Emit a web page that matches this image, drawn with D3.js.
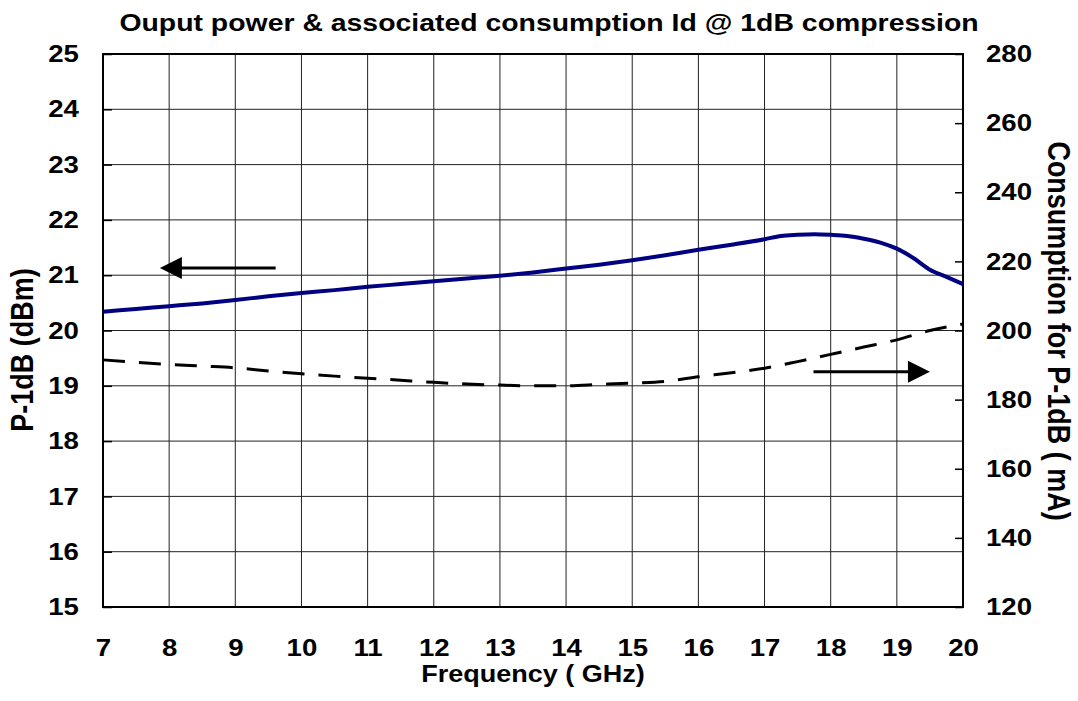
<!DOCTYPE html>
<html>
<head>
<meta charset="utf-8">
<script src="https://cdn.jsdelivr.net/npm/d3@7"></script>
<style>
  body { margin: 0; background: #fff; }
  text { font-family: "Liberation Sans", Arial, sans-serif; font-weight: bold; fill: #000; }
</style>
</head>
<body>
<svg id="chart" width="1078" height="701"></svg>
<script>
const freq = [7, 7.5, 8, 8.5, 9, 9.5, 10, 10.5, 11, 11.5, 12, 12.5, 13, 13.5, 14, 14.5, 15, 15.5, 16, 16.5, 17, 17.25, 17.5, 17.75, 18, 18.25, 18.5, 18.75, 19, 19.25, 19.5, 19.75, 20]
const p1dB = [20.34, 20.39, 20.44, 20.49, 20.55, 20.62, 20.68, 20.73, 20.79, 20.84, 20.89, 20.94, 20.99, 21.05, 21.12, 21.19, 21.27, 21.36, 21.46, 21.55, 21.65, 21.71, 21.73, 21.74, 21.73, 21.71, 21.66, 21.59, 21.48, 21.31, 21.1, 20.97, 20.84]

const freqI = [7, 7.5, 8, 8.5, 9, 9.5, 10, 10.5, 11, 11.5, 12, 12.5, 13, 13.5, 14, 14.5, 15, 15.5, 16, 16.5, 17, 17.5, 18, 18.5, 19, 19.5, 20]
const idmA = [191.5, 190.8, 190.2, 189.7, 189.2, 188.3, 187.5, 186.8, 186.2, 185.6, 185.0, 184.5, 184.2, 184.0, 184.0, 184.4, 184.8, 185.3, 186.6, 187.8, 189.1, 191.0, 193.1, 195.2, 197.3, 200.0, 201.9]

const xTicks = d3.range(7, 21, 1)
const yLeftTicks = d3.range(15, 26, 1)
const yRightTicks = d3.range(120, 281, 20)

// arrows pointing at the axis each curve belongs to: [fromX, toX, value]
const leftArrow = [9.61, 7.86, 21.13]
const rightArrow = [17.74, 19.5, 188.1]

const svg = d3.select("#chart")
const margin = { top: 54, right: 115, bottom: 94, left: 103 }
const W = 1078, H = 701
const stretch = 1.15 // text in the reference is a bit wider than tall
const x = d3.scaleLinear().domain([7, 20]).range([margin.left, W - margin.right])
const y = d3.scaleLinear().domain([15, 25]).range([H - margin.bottom, margin.top])
const y2 = d3.scaleLinear().domain([120, 280]).range([H - margin.bottom, margin.top])

// grid
const grid = svg.append("g").attr("stroke", "#222").attr("stroke-width", 1)
grid.selectAll(".vg").data(xTicks.slice(1, -1)).join("line")
  .attr("x1", d => x(d)).attr("x2", d => x(d))
  .attr("y1", y(15)).attr("y2", y(25))
grid.selectAll(".hg").data(yLeftTicks.slice(1, -1)).join("line")
  .attr("x1", x(7)).attr("x2", x(20))
  .attr("y1", d => y(d)).attr("y2", d => y(d))

// axes (ticks pointing inward)
const xAxis = svg.append("g").attr("transform", `translate(0,${y(15)})`)
  .call(d3.axisBottom(x).tickValues(xTicks).tickSize(0).tickPadding(32).tickFormat(d3.format("d")))
const yAxis = svg.append("g").attr("transform", `translate(${x(7)},0)`)
  .call(d3.axisLeft(y).tickValues(yLeftTicks).tickSizeInner(-9).tickSizeOuter(0).tickPadding(21).tickFormat(d3.format("d")))
const yAxis2 = svg.append("g").attr("transform", `translate(${x(20)},0)`)
  .call(d3.axisRight(y2).tickValues(yRightTicks).tickSizeInner(-8).tickSizeOuter(0).tickPadding(20).tickFormat(d3.format("d")))
;[xAxis, yAxis, yAxis2].forEach(a => {
  a.select(".domain").remove()
  a.selectAll("line").attr("stroke", "#000").attr("stroke-width", 1.5)
  a.selectAll("text").style("font-size", "24px").style("font-weight", "bold")
    .style("font-family", '"Liberation Sans", Arial, sans-serif')
    .attr("transform", `scale(${stretch},1)`)
})

// frame
svg.append("rect").attr("x", x(7)).attr("y", y(25))
  .attr("width", x(20) - x(7)).attr("height", y(15) - y(25))
  .attr("fill", "none").attr("stroke", "#000").attr("stroke-width", 2)

// curves
const powerLine = d3.line().x((d, i) => x(freq[i])).y(d => y(d)).curve(d3.curveMonotoneX)
svg.append("path").datum(p1dB).attr("d", powerLine)
  .attr("fill", "none").attr("stroke", "#000080").attr("stroke-width", 4)

const idLine = d3.line().x((d, i) => x(freqI[i])).y(d => y2(d)).curve(d3.curveMonotoneX)
svg.append("path").datum(idmA).attr("d", idLine)
  .attr("fill", "none").attr("stroke", "#000").attr("stroke-width", 3)
  .attr("stroke-dasharray", "22,14")

// arrows
const drawArrow = (x0, x1, yy) => {
  const dir = Math.sign(x1 - x0)
  svg.append("line").attr("x1", x0).attr("x2", x1 - dir * 10)
    .attr("y1", yy).attr("y2", yy).attr("stroke", "#000").attr("stroke-width", 3)
  svg.append("path")
    .attr("d", `M${x1},${yy} L${x1 - dir * 22},${yy - 11} L${x1 - dir * 22},${yy + 11} Z`)
    .attr("fill", "#000")
}
drawArrow(x(leftArrow[0]), x(leftArrow[1]), y(leftArrow[2]))
drawArrow(x(rightArrow[0]), x(rightArrow[1]), y2(rightArrow[2]))

// titles
svg.append("text").attr("transform", `translate(549,31) scale(${stretch},1)`).attr("text-anchor", "middle")
  .style("font-size", "24.7px").text("Ouput power & associated consumption Id @ 1dB compression")
svg.append("text").attr("transform", `translate(${(x(7) + x(20)) / 2},682) scale(${stretch},1)`).attr("text-anchor", "middle")
  .style("font-size", "23.5px").text("Frequency ( GHz)")
svg.append("text").attr("transform", `translate(33,350) scale(${stretch},1) rotate(-90)`).attr("text-anchor", "middle")
  .style("font-size", "27px").text("P-1dB (dBm)")
svg.append("text").attr("transform", `translate(1048,331) scale(${stretch},1) rotate(90)`).attr("text-anchor", "middle")
  .style("font-size", "27px").text("Consumption for P-1dB ( mA)")
</script>
</body>
</html>
